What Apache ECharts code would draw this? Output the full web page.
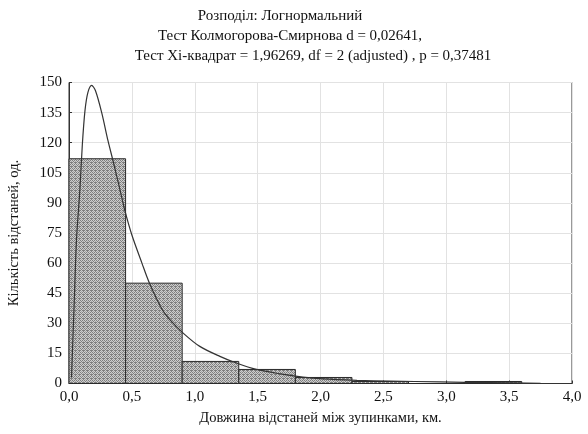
<!DOCTYPE html>
<html><head><meta charset="utf-8">
<script src="https://cdn.jsdelivr.net/npm/echarts@6/dist/echarts.min.js"></script>
<style>html,body{margin:0;padding:0;background:#fff}#c{width:588px;height:434px}</style>
</head><body><div id="c"></div>
<script>
const titleLines = [
  'Розподіл: Логнормальний',
  'Тест Колмогорова-Смирнова d = 0,02641,',
  'Тест Xi-квадрат = 1,96269, df = 2 (adjusted) , p = 0,37481'
];
const xAxisName = 'Довжина відстаней між зупинками, км.';
const yAxisName = 'Кількість відстаней, од.';
const binStarts = [0, 0.45, 0.9, 1.35, 1.8, 2.25, 2.7, 3.15];
const binWidth = 0.45;
const counts = [112, 50, 11, 7, 3, 1, 0, 1];
const curveX = [0.02,0.04,0.06,0.087,0.106,0.127,0.15,0.18,0.21,0.26,0.31,0.35,0.4,0.445,0.5,0.58,0.64,0.74,0.8,0.91,1.04,1.2,1.33,1.49,1.68,1.86,2.02,2.29,2.55,2.95,3.35,3.75];
const curveY = [3,38,72,97,119,136,145,148.6,146,135,121,111,98,86,74,60,50,37,32,25,18.5,13.5,10.2,7,4.8,3.2,2.3,1.6,1.2,0.8,0.4,0.1];

const SERIF = '"Liberation Serif","DejaVu Serif",serif';

function makePattern() {
  const c = document.createElement('canvas');
  c.width = 4; c.height = 4;
  const g = c.getContext('2d');
  g.fillStyle = '#cdcdcd'; g.fillRect(0,0,4,4);
  g.fillStyle = '#7e7e7e';
  g.fillRect(0,0,1,1); g.fillRect(2,0,1,1); g.fillRect(1,1,1,1); g.fillRect(3,2,1,1);
  g.fillRect(0,2,1,1); g.fillRect(2,2,1,1); g.fillRect(3,3,1,1);
  g.fillStyle = '#a6a6a6';
  g.fillRect(3,1,1,1); g.fillRect(1,3,1,1);
  return c;
}
const pattern = { image: makePattern(), repeat: 'repeat' };

const barData = binStarts.map((s, i) => [s, s + binWidth, counts[i]]);
const curveData = curveX.map((x, i) => [x, curveY[i]]);

const titleFont = '15px ' + SERIF;
const chart = echarts.init(document.getElementById('c'), null, {renderer: 'canvas'});
chart.setOption({
  animation: false,
  textStyle: { fontFamily: SERIF },
  graphic: [
    { type: 'text', x: 280, y: 9, style: { text: titleLines[0], font: titleFont, fill: '#111', textAlign: 'center' } },
    { type: 'text', x: 290, y: 29, style: { text: titleLines[1], font: titleFont, fill: '#111', textAlign: 'center' } },
    { type: 'text', x: 313, y: 49, style: { text: titleLines[2], font: titleFont, fill: '#111', textAlign: 'center' } }
  ],
  grid: { left: 69, right: 16, top: 82.5, bottom: 50.5, outerBoundsMode: 'none', containLabel: false,
    show: true, borderColor: '#333', borderWidth: 1, backgroundColor: 'transparent' },
  xAxis: {
    type: 'value', min: 0, max: 4, interval: 0.5,
    name: xAxisName, nameLocation: 'middle', nameGap: 27,
    nameTextStyle: { fontFamily: SERIF, fontSize: 14.5, color: '#111' },
    axisLine: { show: true, lineStyle: { color: '#333' } },
    axisTick: { show: true, inside: true, length: 3, lineStyle: { color: '#333' } },
    axisLabel: { fontFamily: SERIF, fontSize: 15, color: '#111', margin: 6,
      formatter: v => v.toFixed(1).replace('.', ',') },
    splitLine: { show: true, lineStyle: { color: '#e2e2e2', width: 1 } }
  },
  yAxis: {
    type: 'value', min: 0, max: 150, interval: 15,
    name: yAxisName, nameLocation: 'middle', nameGap: 47, nameRotate: 90,
    nameTextStyle: { fontFamily: SERIF, fontSize: 14.5, color: '#111' },
    axisLine: { show: true, lineStyle: { color: '#333' } },
    axisTick: { show: true, inside: true, length: 3, lineStyle: { color: '#333' } },
    axisLabel: { fontFamily: SERIF, fontSize: 15, color: '#111', margin: 7 },
    splitLine: { show: true, lineStyle: { color: '#e2e2e2', width: 1 } }
  },
  series: [
    {
      type: 'custom',
      data: barData,
      encode: { x: [0, 1], y: 2 },
      renderItem: function (params, api) {
        const x0 = api.value(0), x1 = api.value(1), h = api.value(2);
        const p0 = api.coord([x0, h]);
        const p1 = api.coord([x1, 0]);
        return {
          type: 'rect',
          shape: { x: p0[0], y: p0[1], width: p1[0] - p0[0], height: p1[1] - p0[1] },
          style: { fill: pattern, stroke: '#2a2a2a', lineWidth: 1 }
        };
      },
      z: 2
    },
    {
      type: 'line',
      data: curveData,
      smooth: 0.3,
      showSymbol: false,
      lineStyle: { color: '#333', width: 1.2 },
      z: 3
    }
  ]
});
</script>
</body></html>
